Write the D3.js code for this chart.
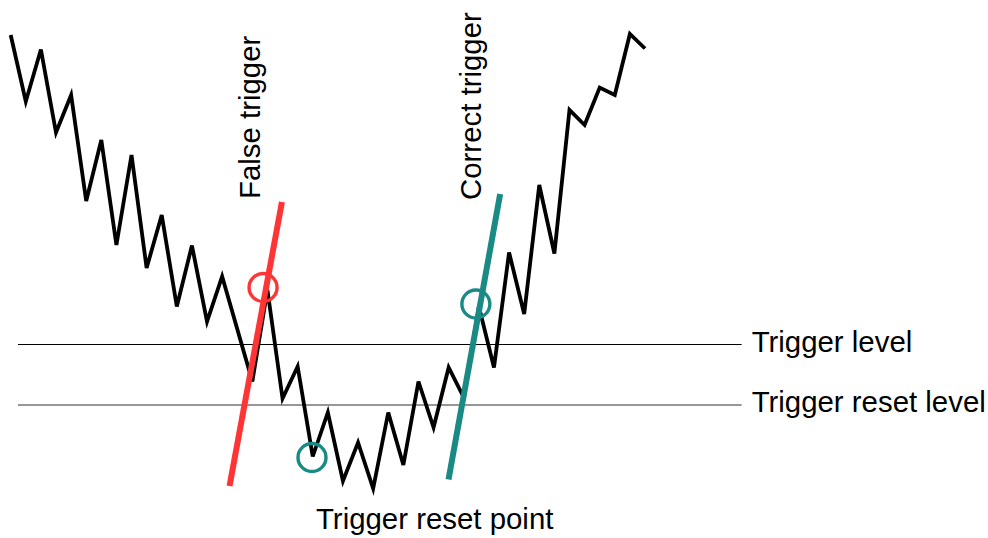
<!DOCTYPE html>
<html><head><meta charset="utf-8">
<script src="https://cdn.jsdelivr.net/npm/d3@7"></script>
<style>html,body{margin:0;padding:0;background:#fff;}svg{display:block;}</style>
</head><body>
<script>
// time index of each sample (sample 15 lies on a straight segment)
const sampleT = [0,1,2,3,4,5,6,7,8,9,10,11,12,13,14,16,17,18,19,20,21,22,23,24,25,26,27,28,29,30,31,32,33,34,35,36,37,38,39,40,41,42];
const signalValues = [93,79.7,90.1,73.5,81,59.8,72,51,69,46.4,57,38.7,50.9,35.7,44.7,23.7,42,20.3,26.7,8.7,17.5,3.8,11.5,2.3,17.5,7,23.7,14.5,26.5,20.5,38.7,26.5,49.5,37.2,63,49.3,78,75,82.5,81,93.2,90.3];
const levelNames = ["Trigger level", "Trigger reset level"];
const levelValues = [31.1, 19];
const levelSpan = [0.48, 48.4];
const triggerNames = ["False trigger", "Correct trigger"];
const triggerLines = [[[14.49, 2.8], [17.96, 59.6]], [[28.99, 4.1], [32.41, 61.2]]];
const markerNames = ["false", "correct", "reset"];
const markerPoints = [[16.71, 42.5], [30.8, 39.2], [19.95, 8.5]];
const resetLabel = "Trigger reset point";

const W = 988, H = 538;
const x = d3.scaleLinear().domain([0, 42]).range([10.7, 645]);
const y = d3.scaleLinear().domain([0, 100]).range([500, 0]);
const svg = d3.select("body").append("svg").attr("width", W).attr("height", H);
const font = "Liberation Sans, Arial, sans-serif";
const fs = 29.4;

// level lines
const levelColors = ["#000", "#757575"];
const levelWidths = [1, 1.6];
levelValues.forEach((v, i) => {
  svg.append("line").attr("x1", x(levelSpan[0])).attr("x2", x(levelSpan[1]))
    .attr("y1", y(v)).attr("y2", y(v)).attr("stroke", levelColors[i]).attr("stroke-width", levelWidths[i]);
  svg.append("text").attr("x", x(levelSpan[1]) + 10).attr("y", y(v) + 7)
    .attr("font-family", font).attr("font-size", fs).attr("fill", "#000").text(levelNames[i]);
});

// signal
const pts = sampleT.map((t, i) => [t, signalValues[i]]);
svg.append("path").datum(pts)
  .attr("d", d3.line().x(d => x(d[0])).y(d => y(d[1])))
  .attr("fill", "none").attr("stroke", "#000").attr("stroke-width", 3.8).attr("stroke-linejoin", "miter");

// trigger lines
const trigColors = ["#ff3535", "#1a8a85"];
triggerLines.forEach((seg, i) => {
  svg.append("line").attr("x1", x(seg[0][0])).attr("y1", y(seg[0][1]))
    .attr("x2", x(seg[1][0])).attr("y2", y(seg[1][1]))
    .attr("stroke", trigColors[i]).attr("stroke-width", 6);
});

// markers
const markerColors = ["#ff3535", "#1a8a85", "#1a8a85"];
markerPoints.forEach((p, i) => {
  svg.append("circle").attr("cx", x(p[0])).attr("cy", y(p[1])).attr("r", 14)
    .attr("fill", "none").attr("stroke", markerColors[i]).attr("stroke-width", 3.4);
});

// rotated labels
const labelBase = [[260, 199], [481, 200]];
triggerNames.forEach((n, i) => {
  svg.append("text").attr("transform", `translate(${labelBase[i][0]},${labelBase[i][1]}) rotate(-90)`)
    .attr("font-family", font).attr("font-size", fs).attr("fill", "#000").text(n);
});

svg.append("text").attr("x", 316).attr("y", 529)
  .attr("font-family", font).attr("font-size", fs).attr("fill", "#000").text(resetLabel);
</script>
</body></html>
